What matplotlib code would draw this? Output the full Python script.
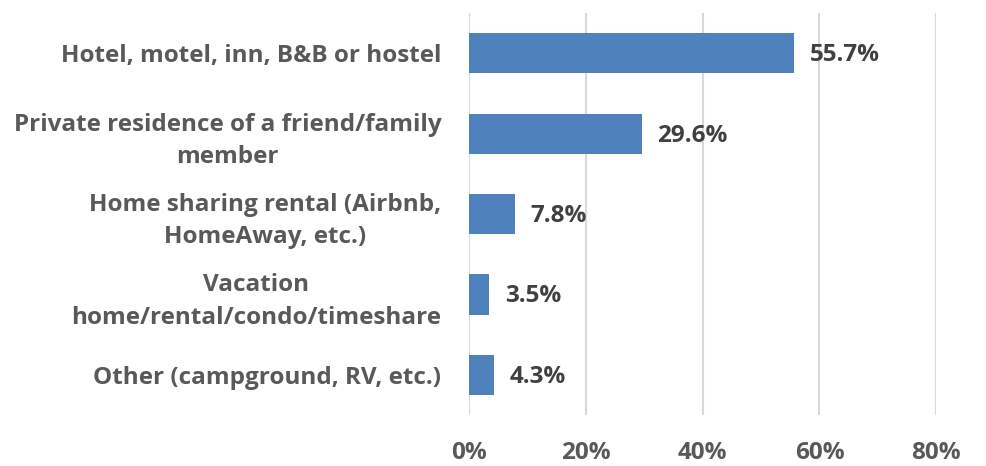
import matplotlib.pyplot as plt
from matplotlib.ticker import FuncFormatter

categories = [
    "Hotel, motel, inn, B&B or hostel",
    "Private residence of a friend/family\nmember",
    "Home sharing rental (Airbnb,\nHomeAway, etc.)",
    "Vacation\nhome/rental/condo/timeshare",
    "Other (campground, RV, etc.)",
]
shares = [55.7, 29.6, 7.8, 3.5, 4.3]
x_ticks = [0, 20, 40, 60, 80]

plt.rcParams["font.family"] = ["Open Sans", "DejaVu Sans"]
plt.rcParams["font.weight"] = "bold"

fig = plt.figure(figsize=(9.86, 4.66), dpi=100)
ax = fig.add_axes([0.4757, 0.1094, 0.4739, 0.8627])

y = list(range(len(categories)))
ax.barh(y, shares, height=0.5, color="#4F81BD", zorder=3)

for yi, v in zip(y, shares):
    ax.annotate(f"{v:.1f}%", (v, yi), xytext=(11, -1.5), textcoords="offset points",
                va="center", ha="left", fontsize=17.5, fontweight="bold",
                color="#404040")

ax.set_xlim(0, 80)
ax.set_ylim(4.5, -0.5)
ax.set_xticks(x_ticks)
ax.xaxis.set_major_formatter(FuncFormatter(lambda v, p: f"{v:.0f}%"))
ax.set_yticks(y)
ax.set_yticklabels(categories, multialignment="center", linespacing=1.45,
                   fontweight="bold")
for lbl in ax.get_xticklabels():
    lbl.set_fontweight("bold")
ax.tick_params(axis="x", length=0, pad=19, labelsize=17.5, labelcolor="#595959")
ax.tick_params(axis="y", length=0, pad=20, labelsize=17.5, labelcolor="#595959")
ax.grid(axis="x", color="#D9D9D9", linewidth=1.5, zorder=0)
for s in ax.spines.values():
    s.set_visible(False)

plt.savefig("out.png", dpi=100)
